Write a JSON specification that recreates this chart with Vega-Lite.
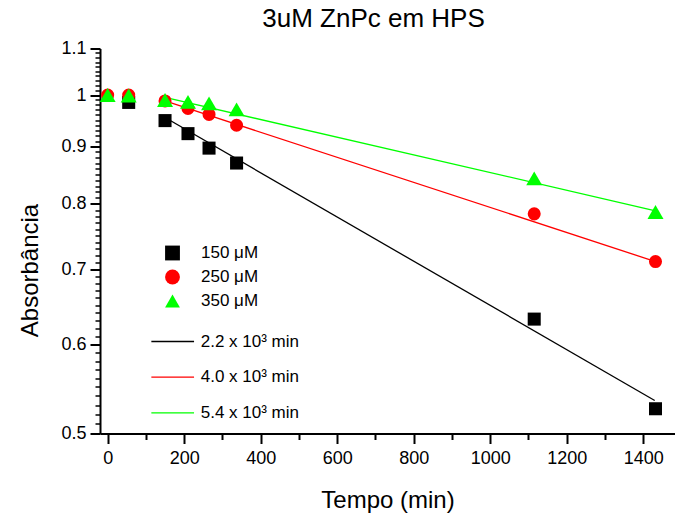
{
  "$schema": "https://vega.github.io/schema/vega-lite/v6.json",
  "width": 575,
  "height": 385,
  "autosize": "none",
  "padding": {"left": 100, "top": 48.5, "right": 0, "bottom": 83.5},
  "background": "white",
  "title": {"text": "3uM ZnPc em HPS", "fontSize": 26, "font": "Liberation Sans", "fontWeight": "normal", "color": "black", "anchor": "middle", "dx": -14, "offset": 8},
  "config": {"view": {"stroke": null}},
  "datasets": {
    "pts": [
      {"t": 55, "A": 0.985, "conc": "150 μM"},
      {"t": 150, "A": 0.949, "conc": "150 μM"},
      {"t": 210, "A": 0.924, "conc": "150 μM"},
      {"t": 265, "A": 0.897, "conc": "150 μM"},
      {"t": 337, "A": 0.870, "conc": "150 μM"},
      {"t": 1115, "A": 0.632, "conc": "150 μM"},
      {"t": 1432, "A": 0.526, "conc": "150 μM"},
      {"t": 0, "A": 1.0, "conc": "250 μM"},
      {"t": 55, "A": 1.0, "conc": "250 μM"},
      {"t": 150, "A": 0.988, "conc": "250 μM"},
      {"t": 210, "A": 0.973, "conc": "250 μM"},
      {"t": 265, "A": 0.961, "conc": "250 μM"},
      {"t": 337, "A": 0.940, "conc": "250 μM"},
      {"t": 1115, "A": 0.784, "conc": "250 μM"},
      {"t": 1432, "A": 0.711, "conc": "250 μM"},
      {"t": 0, "A": 1.0, "conc": "350 μM"},
      {"t": 55, "A": 0.999, "conc": "350 μM"},
      {"t": 150, "A": 0.990, "conc": "350 μM"},
      {"t": 210, "A": 0.986, "conc": "350 μM"},
      {"t": 265, "A": 0.983, "conc": "350 μM"},
      {"t": 337, "A": 0.971, "conc": "350 μM"},
      {"t": 1115, "A": 0.843, "conc": "350 μM"},
      {"t": 1432, "A": 0.787, "conc": "350 μM"}
    ],
    "fits": [
      {"t": 150, "A": 0.955, "fit": "2.2 x 10³ min"},
      {"t": 1430, "A": 0.535, "fit": "2.2 x 10³ min"},
      {"t": 150, "A": 0.988, "fit": "4.0 x 10³ min"},
      {"t": 1432, "A": 0.711, "fit": "4.0 x 10³ min"},
      {"t": 150, "A": 0.995, "fit": "5.4 x 10³ min"},
      {"t": 1432, "A": 0.789, "fit": "5.4 x 10³ min"}
    ]
  },
  "layer": [
    {
      "data": {"name": "fits"},
      "mark": {"type": "line", "strokeWidth": 1.3},
      "encoding": {
        "x": {"field": "t", "type": "quantitative", "scale": {"domain": [-20, 1483], "nice": false, "zero": false},
          "axis": {"orient": "bottom", "values": [0, 200, 400, 600, 800, 1000, 1200, 1400], "format": "d", "title": "Tempo (min)", "titleFont": "Liberation Sans", "titleFontSize": 24, "titleFontWeight": "normal", "titleColor": "black", "titleY": 73.7, "titleBaseline": "alphabetic",
            "labelFont": "Liberation Sans", "labelFontSize": 18, "labelColor": "black", "labelPadding": 6, "labelFlush": false, "labelOverlap": false,
            "tickSize": 10, "tickWidth": 2, "tickColor": "black", "domainColor": "black", "domainWidth": 2, "grid": false}},
        "y": {"field": "A", "type": "quantitative", "scale": {"type": "log", "domain": [0.5, 1.1], "nice": false},
          "axis": {"orient": "left", "values": [0.5, 0.6, 0.7, 0.8, 0.9, 1, 1.1], "format": "~g", "title": "Absorbância", "titleFont": "Liberation Sans", "titleFontSize": 24, "titleFontWeight": "normal", "titleColor": "black", "titleX": -70, "titleY": 221.5, "titleBaseline": "middle", "titleAngle": -90,
            "labelFont": "Liberation Sans", "labelFontSize": 18, "labelColor": "black", "labelPadding": 4, "labelOverlap": false, "labelFlush": false,
            "tickSize": 10, "tickWidth": 2, "tickColor": "black", "domainColor": "black", "domainWidth": 2, "grid": false}},
        "stroke": {"field": "fit", "type": "nominal",
          "scale": {"domain": ["2.2 x 10³ min", "4.0 x 10³ min", "5.4 x 10³ min"], "range": ["#000000", "#ff0000", "#00ff00"]},
          "legend": {"orient": "none", "legendX": 50.7, "legendY": 271, "title": null, "symbolType": "stroke", "symbolSize": 1823, "symbolStrokeWidth": 1.3, "labelOffset": 6, "rowPadding": 5.7, "padding": 0,
            "labelFont": "Liberation Sans", "labelFontSize": 17, "labelColor": "black"}}
      }
    },
    {
      "data": {"name": "pts"},
      "transform": [{"filter": "datum.conc != '350 μM'"}],
      "mark": {"type": "point", "filled": true, "opacity": 1, "size": 170},
      "encoding": {
        "x": {"field": "t", "type": "quantitative", "scale": {"domain": [-20, 1483], "nice": false, "zero": false},
          "axis": {"orient": "bottom", "values": [100, 300, 500, 700, 900, 1100, 1300], "labels": false, "domain": false, "title": null, "tickSize": 6, "tickWidth": 2, "tickColor": "black", "grid": false}},
        "y": {"field": "A", "type": "quantitative", "scale": {"type": "log", "domain": [0.5, 1.1], "nice": false},
          "axis": {"orient": "left", "values": [0.51, 0.52, 0.53, 0.54, 0.55, 0.56, 0.57, 0.58, 0.59, 0.61, 0.62, 0.63, 0.64, 0.65, 0.66, 0.67, 0.68, 0.69, 0.71, 0.72, 0.73, 0.74, 0.75, 0.76, 0.77, 0.78, 0.79, 0.81, 0.82, 0.83, 0.84, 0.85, 0.86, 0.87, 0.88, 0.89, 0.91, 0.92, 0.93, 0.94, 0.95, 0.96, 0.97, 0.98, 0.99, 1.01, 1.02, 1.03, 1.04, 1.05, 1.06, 1.07, 1.08, 1.09], "labels": false, "domain": false, "title": null, "tickSize": 5, "tickWidth": 1.5, "tickColor": "black", "grid": false}},
        "fill": {"field": "conc", "type": "nominal",
          "scale": {"domain": ["150 μM", "250 μM", "350 μM"], "range": ["#000000", "#ff0000", "#00ff00"]},
          "legend": {"orient": "none", "legendX": 64, "legendY": 196, "title": null, "symbolSize": 220, "symbolStrokeWidth": 0, "labelOffset": 20, "rowPadding": 6, "padding": 0,
            "labelFont": "Liberation Sans", "labelFontSize": 17, "labelColor": "black"}},
        "shape": {"field": "conc", "type": "nominal",
          "scale": {"domain": ["150 μM", "250 μM", "350 μM"], "range": ["square", "circle", "triangle-up"]}}
      }
    },
    {
      "data": {"name": "pts"},
      "transform": [{"filter": "datum.conc == '350 μM'"}],
      "mark": {"type": "point", "filled": true, "opacity": 1, "size": 256},
      "encoding": {
        "x": {"field": "t", "type": "quantitative", "axis": null},
        "y": {"field": "A", "type": "quantitative", "axis": null},
        "fill": {"field": "conc", "type": "nominal"},
        "shape": {"field": "conc", "type": "nominal"}
      }
    }
  ],
  "resolve": {"axis": {"x": "independent", "y": "independent"}}
}
